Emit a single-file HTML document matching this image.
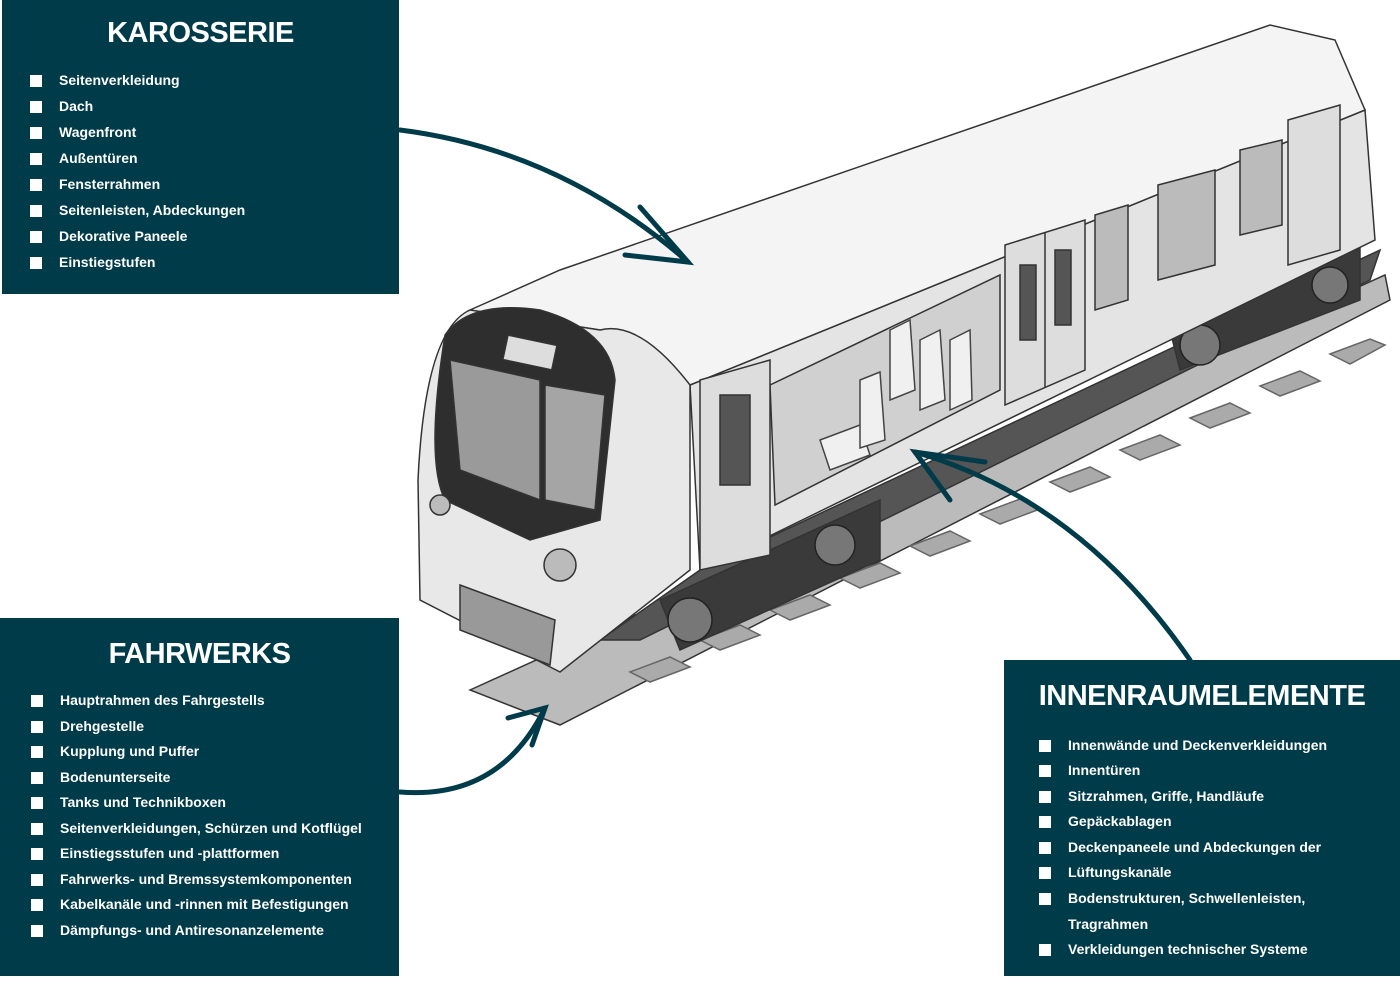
<!DOCTYPE html>
<html><head><meta charset="utf-8"><style>
body{margin:0;width:1400px;height:1000px;background:#fff;position:relative;overflow:hidden;font-family:"Liberation Sans",sans-serif}
.p{position:absolute;background:#003b49;color:#fff}
.t{position:absolute;font-weight:bold;text-align:center;letter-spacing:-0.5px}
.i{position:absolute;font-size:14px;font-weight:bold;white-space:nowrap}
.i:before{content:"";position:absolute;width:12px;height:12px;background:#fff;left:-29px;top:3px}
svg{position:absolute;left:0;top:0}
</style></head><body>
<svg width="1400" height="1000">
<g stroke="#333" stroke-width="1.5">
<polygon points="470,690 1385,275 1390,300 560,725" fill="#bbb"/>
<g fill="#aaa" stroke="#666">
<polygon points="700,640 740,625 760,635 720,650"/><polygon points="770,610 810,595 830,605 790,620"/>
<polygon points="840,578 880,563 900,573 860,588"/><polygon points="910,546 950,531 970,541 930,556"/>
<polygon points="980,514 1020,499 1040,509 1000,524"/><polygon points="1050,482 1090,467 1110,477 1070,492"/>
<polygon points="1120,450 1160,435 1180,445 1140,460"/><polygon points="1190,418 1230,403 1250,413 1210,428"/>
<polygon points="1260,386 1300,371 1320,381 1280,396"/><polygon points="1330,354 1370,339 1385,345 1350,364"/>
<polygon points="630,672 670,657 690,667 650,682"/>
</g>
<polygon points="640,640 1370,280 1380,250 700,570 600,640" fill="#555"/>
<g fill="#3a3a3a"><polygon points="660,600 880,500 880,560 680,650"/><polygon points="1170,330 1360,245 1360,300 1180,370"/></g>
<g fill="#777" stroke="#222"><circle cx="690" cy="620" r="22"/><circle cx="835" cy="545" r="20"/><circle cx="1200" cy="345" r="20"/><circle cx="1330" cy="285" r="18"/></g>
<polygon points="690,385 1365,110 1375,240 700,570" fill="#e4e4e4"/>
<polygon points="470,310 560,270 1270,25 1335,40 1365,110 690,385 600,330" fill="#f4f4f4"/>
<path d="M470,310 Q425,330 418,480 L420,600 L560,672 L690,570 L690,385 Q640,320 600,330 Z" fill="#e8e8e8"/>
<path d="M445,335 Q470,300 540,310 Q610,330 615,380 L600,520 L530,540 L445,500 Q425,460 445,335 Z" fill="#2e2e2e"/>
<polygon points="450,360 540,380 540,500 460,470" fill="#9a9a9a"/>
<polygon points="545,385 605,395 595,510 545,500" fill="#a5a5a5"/>
<rect x="505" y="340" width="50" height="25" fill="#ddd" transform="rotate(12 530 352)"/>
<circle cx="560" cy="565" r="16" fill="#bbb"/><circle cx="440" cy="505" r="10" fill="#bbb"/>
<polygon points="770,385 1000,275 1000,390 775,505" fill="#d0d0d0"/>
<g fill="#f0f0f0" stroke="#444"><polygon points="820,440 860,425 870,455 830,470"/><polygon points="890,330 910,320 915,390 890,400"/><polygon points="920,340 940,330 945,400 920,410"/><polygon points="950,340 970,330 972,400 950,410"/><polygon points="860,380 880,372 885,440 860,448"/></g>
<polygon points="700,380 770,360 770,555 700,570" fill="#ddd"/>
<rect x="720" y="395" width="30" height="90" fill="#555"/>
<polygon points="1005,245 1085,220 1085,370 1005,405" fill="#ddd"/>
<line x1="1045" y1="232" x2="1045" y2="388"/>
<rect x="1020" y="265" width="16" height="75" fill="#555"/><rect x="1055" y="250" width="16" height="75" fill="#555"/>
<polygon points="1288,120 1340,105 1340,250 1288,265" fill="#ddd"/>
<polygon points="1095,215 1128,205 1128,300 1095,310" fill="#bbb"/>
<polygon points="1158,185 1215,170 1215,265 1158,280" fill="#bbb"/>
<polygon points="1240,150 1282,140 1282,225 1240,235" fill="#bbb"/>
<polygon points="460,585 555,620 550,665 460,630" fill="#999"/>
</g>
<g fill="none" stroke="#003b49" stroke-width="5" stroke-linecap="round">
<path d="M400,130 Q560,150 688,262"/><path d="M640,207 L688,262 L625,255"/>
<path d="M400,792 Q500,800 545,708"/><path d="M508,718 L545,708 L532,745"/>
<path d="M1190,660 Q1080,500 915,452"/><path d="M985,462 L915,452 L950,500"/>
</g>
</svg>
<div class="p" style="left:2px;top:0;width:397px;height:294px">
<div class="t" style="left:0;width:397px;top:17px;font-size:29px">KAROSSERIE</div>
<div class="i" style="left:57px;top:72px">Seitenverkleidung</div>
<div class="i" style="left:57px;top:98px">Dach</div>
<div class="i" style="left:57px;top:124px">Wagenfront</div>
<div class="i" style="left:57px;top:150px">Außentüren</div>
<div class="i" style="left:57px;top:176px">Fensterrahmen</div>
<div class="i" style="left:57px;top:202px">Seitenleisten, Abdeckungen</div>
<div class="i" style="left:57px;top:228px">Dekorative Paneele</div>
<div class="i" style="left:57px;top:254px">Einstiegstufen</div>
</div>
<div class="p" style="left:0;top:618px;width:399px;height:358px">
<div class="t" style="left:0;width:399px;top:20px;font-size:29px">FAHRWERKS</div>
<div class="i" style="left:60px;top:74px">Hauptrahmen des Fahrgestells</div>
<div class="i" style="left:60px;top:100px">Drehgestelle</div>
<div class="i" style="left:60px;top:125px">Kupplung und Puffer</div>
<div class="i" style="left:60px;top:151px">Bodenunterseite</div>
<div class="i" style="left:60px;top:176px">Tanks und Technikboxen</div>
<div class="i" style="left:60px;top:202px">Seitenverkleidungen, Schürzen und Kotflügel</div>
<div class="i" style="left:60px;top:227px">Einstiegsstufen und -plattformen</div>
<div class="i" style="left:60px;top:253px">Fahrwerks- und Bremssystemkomponenten</div>
<div class="i" style="left:60px;top:278px">Kabelkanäle und -rinnen mit Befestigungen</div>
<div class="i" style="left:60px;top:304px">Dämpfungs- und Antiresonanzelemente</div>
</div>
<div class="p" style="left:1004px;top:660px;width:396px;height:316px">
<div class="t" style="left:0;width:396px;top:20px;font-size:29px">INNENRAUMELEMENTE</div>
<div class="i" style="left:64px;top:77px">Innenwände und Deckenverkleidungen</div>
<div class="i" style="left:64px;top:102px">Innentüren</div>
<div class="i" style="left:64px;top:128px">Sitzrahmen, Griffe, Handläufe</div>
<div class="i" style="left:64px;top:153px">Gepäckablagen</div>
<div class="i" style="left:64px;top:179px">Deckenpaneele und Abdeckungen der</div>
<div class="i" style="left:64px;top:204px">Lüftungskanäle</div>
<div class="i" style="left:64px;top:230px">Bodenstrukturen, Schwellenleisten,</div>
<div style="position:absolute;left:64px;top:256px;font-size:14px;font-weight:bold">Tragrahmen</div>
<div class="i" style="left:64px;top:281px">Verkleidungen technischer Systeme</div>
</div>
</body></html>
